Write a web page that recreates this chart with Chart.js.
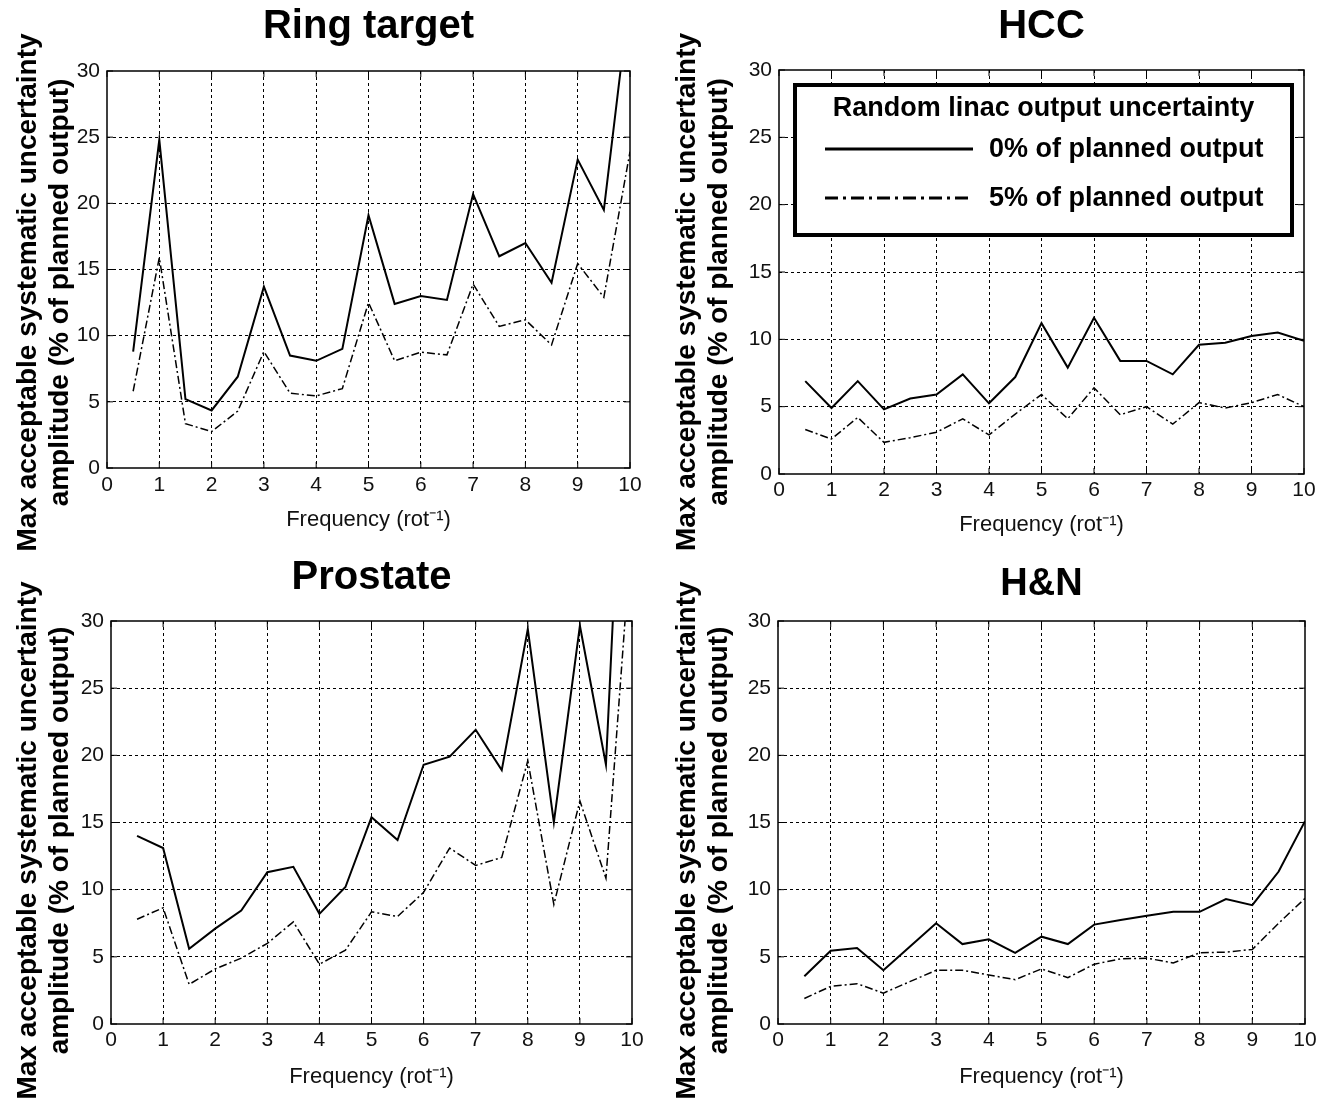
<!DOCTYPE html>
<html>
<head>
<meta charset="utf-8">
<script src="https://cdn.jsdelivr.net/npm/chart.js@4.4.1/dist/chart.umd.min.js"></script>
<style>
  html, body { margin: 0; padding: 0; background: #fff; }
  #wrap { position: relative; width: 1334px; height: 1108px; }
  canvas { position: absolute; }
</style>
</head>
<body>
<div id="wrap">
  <canvas id="ring" width="667" height="550" style="left:0;top:0"></canvas>
  <canvas id="hcc" width="667" height="550" style="left:667px;top:0"></canvas>
  <canvas id="prostate" width="667" height="558" style="left:0;top:550px"></canvas>
  <canvas id="hn" width="667" height="558" style="left:667px;top:550px"></canvas>
</div>
<script>
// frequency (rot^-1)
const freqs = [0.5, 1, 1.5, 2, 2.5, 3, 3.5, 4, 4.5, 5, 5.5, 6, 6.5, 7, 7.5, 8, 8.5, 9, 9.5, 10];

// max acceptable amplitude, 0% and 5% random output uncertainty
const ring0 = [8.8, 24.8, 5.2, 4.35, 6.9, 13.7, 8.5, 8.1, 9.0, 19.1, 12.4, 13.0, 12.7, 20.7, 16.0, 17.0, 14.0, 23.3, 19.5, 36];
const ring5 = [5.8, 15.9, 3.35, 2.75, 4.3, 8.8, 5.65, 5.45, 6.0, 12.5, 8.1, 8.75, 8.55, 13.9, 10.7, 11.2, 9.3, 15.45, 12.9, 23.9];

const hcc0 = [6.9, 4.9, 6.9, 4.8, 5.6, 5.9, 7.4, 5.25, 7.2, 11.2, 7.9, 11.6, 8.4, 8.4, 7.4, 9.6, 9.75, 10.25, 10.5, 9.9];
const hcc5 = [3.3, 2.6, 4.2, 2.35, 2.7, 3.1, 4.1, 2.9, 4.45, 5.9, 4.1, 6.4, 4.4, 5.0, 3.7, 5.3, 4.9, 5.3, 5.9, 5.0];

const prostate0 = [14.0, 13.1, 5.6, 7.1, 8.45, 11.3, 11.7, 8.2, 10.2, 15.4, 13.7, 19.3, 19.9, 21.9, 18.9, 29.4, 15.0, 29.65, 19.3, 60];
const prostate5 = [7.8, 8.65, 2.95, 4.1, 4.9, 6.0, 7.6, 4.45, 5.5, 8.35, 8.0, 9.8, 13.1, 11.8, 12.4, 19.6, 8.9, 16.6, 10.85, 37];

const hn0 = [3.55, 5.45, 5.65, 4.0, 5.75, 7.5, 5.95, 6.3, 5.3, 6.5, 5.95, 7.4, 7.75, 8.05, 8.35, 8.35, 9.3, 8.85, 11.35, 15.1];
const hn5 = [1.9, 2.8, 3.0, 2.3, 3.15, 4.0, 4.0, 3.65, 3.3, 4.1, 3.45, 4.45, 4.85, 4.9, 4.55, 5.3, 5.35, 5.55, 7.5, 9.35];

const seriesLabels = ['0% of planned output', '5% of planned output'];
const legendTitle = 'Random linac output uncertainty';
const yTitle = ['Max acceptable systematic uncertainty', 'amplitude (% of planned output)'];
const xTitle = 'Frequency (rot\u207B\u00B9)';

const FONT = '"Liberation Sans", Arial, Helvetica, sans-serif';

// box around the plot plus short inward ticks on all four sides
const framePlugin = {
  id: 'frame',
  afterDatasetsDraw(chart) {
    const { ctx, chartArea: a, scales: { x, y } } = chart;
    ctx.save();
    ctx.strokeStyle = '#000';
    ctx.lineWidth = 1;
    ctx.beginPath();
    x.ticks.forEach(t => {
      const px = x.getPixelForValue(t.value);
      ctx.moveTo(px, a.bottom); ctx.lineTo(px, a.bottom - 6);
      ctx.moveTo(px, a.top); ctx.lineTo(px, a.top + 6);
    });
    y.ticks.forEach(t => {
      const py = y.getPixelForValue(t.value);
      ctx.moveTo(a.left, py); ctx.lineTo(a.left + 6, py);
      ctx.moveTo(a.right, py); ctx.lineTo(a.right - 6, py);
    });
    ctx.stroke();
    ctx.lineWidth = 1.5;
    ctx.strokeRect(a.left, a.top, a.right - a.left, a.bottom - a.top);
    ctx.restore();
  }
};

// two-line rotated y title, sitting a bit lower than the plot centre like the original
const sideTitle = {
  id: 'sideTitle',
  afterDraw(chart, args, opts) {
    const { ctx, chartArea: a } = chart;
    const cy = (a.top + a.bottom) / 2 + opts.shift;
    ctx.save();
    ctx.fillStyle = '#000';
    ctx.font = 'bold 28px ' + FONT;
    ctx.textAlign = 'center';
    ctx.textBaseline = 'middle';
    opts.lines.forEach((line, i) => {
      ctx.save();
      ctx.translate(opts.x[i], cy);
      ctx.rotate(-Math.PI / 2);
      ctx.fillText(line, 0, 0);
      ctx.restore();
    });
    ctx.restore();
  }
};

// boxed legend with a title line, as in the HCC panel
const boxLegend = {
  id: 'boxLegend',
  afterDraw(chart, args, opts) {
    if (!opts.display) return;
    const { ctx, chartArea: a } = chart;
    const x0 = a.left + 16, y0 = a.top + 15, x1 = a.right - 12, y1 = a.top + 165;
    ctx.save();
    ctx.fillStyle = '#fff';
    ctx.fillRect(x0, y0, x1 - x0, y1 - y0);
    ctx.lineWidth = 4;
    ctx.strokeStyle = '#000';
    ctx.strokeRect(x0, y0, x1 - x0, y1 - y0);
    ctx.fillStyle = '#000';
    ctx.font = 'bold 27px ' + FONT;
    ctx.textBaseline = 'middle';
    ctx.textAlign = 'center';
    ctx.fillText(opts.title, (x0 + x1) / 2, y0 + 24);
    chart.data.datasets.forEach((ds, i) => {
      const yy = y0 + 64 + i * 49;
      ctx.lineWidth = 3;
      ctx.setLineDash(ds.legendDash || []);
      ctx.beginPath();
      ctx.moveTo(x0 + 30, yy);
      ctx.lineTo(x0 + 178, yy);
      ctx.stroke();
      ctx.setLineDash([]);
      ctx.textAlign = 'left';
      ctx.fillText(ds.label, x0 + 194, yy + 1);
    });
    ctx.restore();
  }
};

const gridColor = c =>
  (c.tick && (c.tick.value === c.scale.min || c.tick.value === c.scale.max)) ? 'rgba(0,0,0,0)' : '#000';

function toPoints(vals) {
  return vals.map((v, i) => ({ x: freqs[i], y: v }));
}

function makeChart(p) {
  const pl = p.plot;
  const axisBottom = p.xTitleCenter + 11;
  return new Chart(document.getElementById(p.id), {
    type: 'line',
    data: {
      datasets: [
        { label: seriesLabels[0], data: toPoints(p.solid), borderColor: '#000', borderWidth: 2,
          pointRadius: 0, tension: 0, legendDash: [] },
        { label: seriesLabels[1], data: toPoints(p.dashed), borderColor: '#000', borderWidth: 1.5,
          borderDash: [8, 3, 2, 3], pointRadius: 0, tension: 0, legendDash: [13, 5, 3, 5] }
      ]
    },
    options: {
      responsive: false,
      animation: false,
      events: [],
      layout: { padding: { left: 0, top: 0, right: p.w - pl.right, bottom: p.h - axisBottom } },
      plugins: {
        legend: { display: false },
        tooltip: { enabled: false },
        title: {
          display: true, text: p.title, fullSize: false, color: '#000',
          font: { family: FONT, size: p.titleSize, weight: 'bold', lineHeight: 1 },
          padding: { top: p.titleY - p.titleSize / 2, bottom: pl.top - (p.titleY + p.titleSize / 2) }
        },
        sideTitle: { lines: yTitle, x: p.yTitleX, shift: p.yTitleShift },
        boxLegend: { display: p.legend, title: legendTitle }
      },
      scales: {
        x: {
          type: 'linear', min: 0, max: 10,
          ticks: { stepSize: 1, padding: p.tickPad, maxRotation: 0, color: '#111',
                   font: { family: FONT, size: 21, lineHeight: 1 } },
          grid: { drawTicks: false, color: gridColor, lineWidth: 1 },
          border: { display: false, dash: [3, 3] },
          title: { display: true, text: xTitle, color: '#111',
                   font: { family: FONT, size: 22, lineHeight: 1 }, padding: { top: 0, bottom: 0 } },
          afterFit(s) { s.height = axisBottom - pl.bottom; }
        },
        y: {
          min: 0, max: 30,
          ticks: { stepSize: 5, padding: 7, color: '#111', font: { family: FONT, size: 21, lineHeight: 1 } },
          grid: { drawTicks: false, color: gridColor, lineWidth: 1 },
          border: { display: false, dash: [3, 3] },
          title: { display: false },
          afterFit(s) { s.width = pl.left; }
        }
      }
    },
    plugins: [framePlugin, sideTitle, boxLegend]
  });
}

const panels = [
  { id: 'ring', title: 'Ring target', solid: ring0, dashed: ring5, legend: false,
    w: 667, h: 550, plot: { left: 107, top: 71, right: 630, bottom: 468 },
    titleSize: 40, titleY: 27, tickPad: 7, xTitleCenter: 520, yTitleX: [28, 60], yTitleShift: 23 },
  { id: 'hcc', title: 'HCC', solid: hcc0, dashed: hcc5, legend: true,
    w: 667, h: 550, plot: { left: 112, top: 70, right: 637, bottom: 474 },
    titleSize: 40, titleY: 27, tickPad: 6, xTitleCenter: 525, yTitleX: [20, 52], yTitleShift: 20 },
  { id: 'prostate', title: 'Prostate', solid: prostate0, dashed: prostate5, legend: false,
    w: 667, h: 558, plot: { left: 111, top: 71, right: 632, bottom: 474 },
    titleSize: 40, titleY: 28, tickPad: 6, xTitleCenter: 527, yTitleX: [28, 60], yTitleShift: 18 },
  { id: 'hn', title: 'H&N', solid: hn0, dashed: hn5, legend: false,
    w: 667, h: 558, plot: { left: 111, top: 71, right: 638, bottom: 474 },
    titleSize: 38, titleY: 35, tickPad: 6, xTitleCenter: 527, yTitleX: [20, 52], yTitleShift: 18 }
];

panels.forEach(makeChart);
</script>
</body>
</html>
